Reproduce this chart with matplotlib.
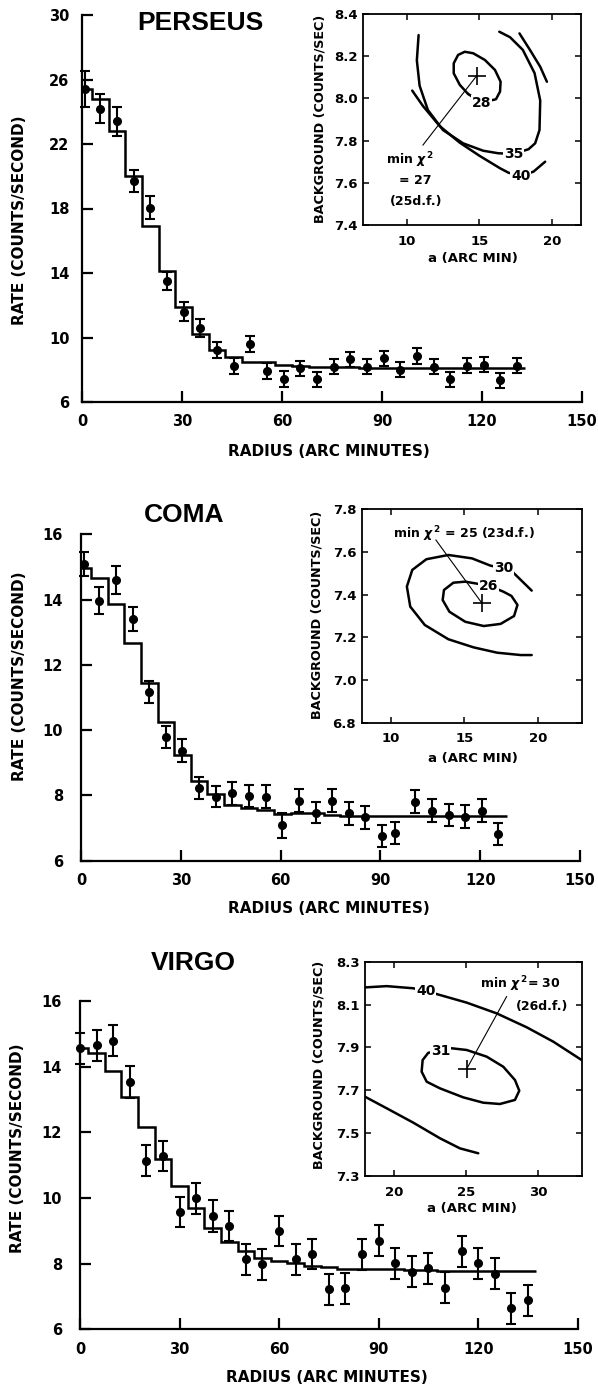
import numpy as np
import matplotlib.pyplot as plt

plt.rcParams['font.family'] = ['DejaVu Sans']
plt.rcParams['font.weight'] = 'bold'

W, H = 598, 1387

# ---- Perseus radial profile ----
per_r = [1, 5.5, 10.5, 15.5, 20.5, 25.5, 30.5, 35.5, 40.5, 45.5, 50.5, 55.5, 60.5, 65.5,
         70.5, 75.5, 80.5, 85.5, 90.5, 95.5, 100.5, 105.5, 110.5, 115.5, 120.5, 125.5, 130.5]
per_rate = [25.4, 24.2, 23.4, 19.7, 18.05, 13.5, 11.6, 10.6, 9.2, 8.25, 9.6, 7.9, 7.45, 8.1,
            7.4, 8.2, 8.65, 8.2, 8.7, 8.0, 8.85, 8.2, 7.4, 8.25, 8.3, 7.35, 8.25]
per_err = [1.1, 0.92, 0.9, 0.7, 0.72, 0.55, 0.6, 0.55, 0.5, 0.5, 0.5, 0.5, 0.5, 0.47,
           0.47, 0.47, 0.47, 0.47, 0.47, 0.47, 0.47, 0.47, 0.47, 0.47, 0.47, 0.47, 0.47]
per_edges = [0, 3, 8, 13, 18, 23, 28, 33, 38, 43, 48, 53, 58, 63, 68, 73, 78, 83, 88, 93,
             98, 103, 108, 113, 118, 123, 128, 133]
per_model = [25.4, 24.8, 22.8, 20.0, 16.9, 14.1, 11.9, 10.2, 9.2, 8.8, 8.5, 8.45, 8.3, 8.25,
             8.15, 8.2, 8.2, 8.1, 8.1, 8.1, 8.1, 8.1, 8.1, 8.1, 8.1, 8.1, 8.1]

# ---- Coma radial profile ----
coma_r = [1, 5.5, 10.5, 15.5, 20.5, 25.5, 30.5, 35.5, 40.5, 45.5, 50.5, 55.5, 60.5, 65.5,
          70.5, 75.5, 80.5, 85.5, 90.5, 94.5, 100.5, 105.5, 110.5, 115.5, 120.5, 125.5]
coma_rate = [15.09, 13.97, 14.60, 13.40, 11.18, 9.80, 9.37, 8.22, 7.96, 8.06, 7.98, 7.96, 7.09,
             7.84, 7.47, 7.84, 7.45, 7.33, 6.76, 6.84, 7.81, 7.53, 7.40, 7.35, 7.53, 6.82]
coma_err = [0.37, 0.41, 0.43, 0.36, 0.34, 0.34, 0.36, 0.33, 0.33, 0.36, 0.35, 0.35, 0.38,
            0.36, 0.33, 0.35, 0.35, 0.35, 0.34, 0.34, 0.35, 0.35, 0.35, 0.35, 0.35, 0.35]
coma_edges = [0, 3, 8, 13, 18, 23, 28, 33, 38, 43, 48, 53, 58, 63, 68, 73, 78, 83, 88, 93,
              98, 103, 108, 113, 118, 123, 128]
coma_model = [14.98, 14.67, 13.87, 12.66, 11.43, 10.24, 9.24, 8.45, 8.04, 7.71, 7.62, 7.55,
              7.43, 7.47, 7.47, 7.40, 7.38, 7.38, 7.37, 7.37, 7.37, 7.37, 7.37, 7.37, 7.37, 7.37]

# ---- Virgo radial profile ----
vir_r = [0, 5, 10, 15, 20, 25, 30, 35, 40, 45, 50, 55, 60, 65, 70, 75, 80, 85, 90, 95,
         100, 105, 110, 115, 120, 125, 130, 135]
vir_rate = [14.56, 14.65, 14.79, 13.53, 11.14, 11.28, 9.58, 9.99, 9.45, 9.15, 8.13, 7.98,
            8.99, 8.13, 8.29, 7.22, 7.25, 8.28, 8.70, 8.01, 7.76, 7.86, 7.27, 8.37, 8.01,
            7.69, 6.64, 6.89]
vir_err = [0.48, 0.47, 0.48, 0.48, 0.46, 0.47, 0.46, 0.48, 0.48, 0.46, 0.47, 0.47, 0.46,
           0.47, 0.46, 0.47, 0.47, 0.47, 0.47, 0.47, 0.47, 0.47, 0.47, 0.47, 0.47, 0.47,
           0.47, 0.47]
vir_edges = [0, 2.5, 7.5, 12.5, 17.5, 22.5, 27.5, 32.5, 37.5, 42.5, 47.5, 52.5, 57.5, 62.5,
             67.5, 72.5, 77.5, 82.5, 87.5, 92.5, 97.5, 102.5, 107.5, 112.5, 117.5, 122.5,
             127.5, 132.5, 137.5]
vir_model = [14.58, 14.41, 13.87, 13.09, 12.17, 11.19, 10.35, 9.69, 9.08, 8.67, 8.37, 8.18,
             8.09, 8.03, 7.92, 7.91, 7.84, 7.83, 7.83, 7.83, 7.80, 7.80, 7.79, 7.79, 7.79,
             7.79, 7.79, 7.79]

# ---- chi^2 contours (core radius a, background) ----
per_c28_a = [14.22, 13.65, 13.23, 13.23, 13.53, 13.99, 14.57, 15.38, 16.07, 16.46, 16.42, 16.14, 15.15, 14.22]
per_c28_b = [8.021, 8.064, 8.119, 8.166, 8.206, 8.221, 8.214, 8.182, 8.135, 8.079, 8.032, 7.996, 7.98, 8.021]
per_c35_a = [10.81, 10.69, 10.88, 11.45, 12.49, 13.88, 15.26, 16.30, 17.34, 18.38, 18.84,
             19.14, 19.19, 18.80, 17.99, 17.11, 16.37]
per_c35_b = [8.30, 8.18, 8.06, 7.945, 7.85, 7.787, 7.752, 7.74, 7.737, 7.759, 7.787,
             7.85, 7.99, 8.12, 8.23, 8.29, 8.316]
per_c40_a = [10.37, 11.11, 12.26, 13.65, 15.03, 16.42, 17.0, 17.85, 18.73, 19.53]
per_c40_b = [8.037, 7.964, 7.869, 7.79, 7.727, 7.669, 7.648, 7.632, 7.653, 7.70]
per_c40u_a = [17.76, 18.49, 19.19, 19.65]
per_c40u_b = [8.308, 8.229, 8.15, 8.079]
per_min = (14.8, 8.106)

coma_c26_a = [16.67, 15.06, 14.25, 13.61, 13.52, 13.98, 15.06, 16.32, 17.47, 18.39, 18.62,
              18.21, 17.66, 16.67]
coma_c26_b = [7.442, 7.461, 7.456, 7.422, 7.375, 7.32, 7.273, 7.253, 7.263, 7.30, 7.352,
              7.394, 7.414, 7.442]
coma_c30_a = [19.59, 18.34, 17.66, 16.78, 15.52, 13.91, 12.41, 11.45, 11.08, 11.31, 12.30,
              13.91, 15.63, 17.24, 18.85, 19.59]
coma_c30_b = [7.419, 7.503, 7.523, 7.536, 7.570, 7.586, 7.566, 7.516, 7.438, 7.344, 7.258,
              7.191, 7.153, 7.128, 7.117, 7.117]
coma_min = (16.21, 7.359)

vir_c40u_a = [18.0, 19.50, 21.34, 22.20, 22.96, 25.04, 27.11, 29.19, 31.03, 33.0]
vir_c40u_b = [8.180, 8.186, 8.176, 8.163, 8.149, 8.109, 8.059, 7.994, 7.927, 7.841]
vir_c40l_a = [18.0, 19.50, 21.34, 23.19, 24.57, 25.84]
vir_c40l_b = [7.67, 7.616, 7.549, 7.476, 7.429, 7.406]
vir_c31_a = [23.24, 24.0, 25.04, 26.42, 27.57, 28.38, 28.68, 28.38, 27.34, 26.19, 24.80,
             23.19, 22.27, 21.92, 21.99, 22.38, 23.24]
vir_c31_b = [7.885, 7.896, 7.888, 7.857, 7.81, 7.748, 7.698, 7.655, 7.636, 7.642, 7.667,
             7.709, 7.74, 7.787, 7.841, 7.875, 7.885]
vir_min = (25.04, 7.80)


def px_rect(l, t, r, b):
    return [l / W, 1 - b / H, (r - l) / W, (b - t) / H]


fig = plt.figure(figsize=(W / 100, H / 100), dpi=100)


def profile(rect, r, rate, err, edges, model, ylim, yticks, ypad, title, title_pos, xl_pos, yl_pos):
    ax = fig.add_axes(rect)
    ax.stairs(model, edges, baseline=None, color='black', lw=1.8)
    eb = ax.errorbar(r, rate, yerr=err, fmt='o', color='black', ms=5.5,
                     elinewidth=1.5, capsize=3.5, capthick=1.5)
    eb[0].set_clip_on(False)
    for a in list(eb[1]) + list(eb[2]):
        a.set_clip_on(False)
    ax.set_xlim(0, 150)
    ax.set_ylim(ylim)
    ax.set_xticks([0, 30, 60, 90, 120, 150])
    ax.set_yticks(yticks)
    ax.spines[['top', 'right']].set_visible(False)
    ax.spines[['left', 'bottom']].set_linewidth(1.6)
    ax.tick_params(direction='in', length=8, width=1.6, labelsize=10.5)
    ax.tick_params(axis='x', pad=9)
    ax.tick_params(axis='y', pad=ypad)
    ax.text(title_pos[0], title_pos[1], title, transform=ax.transAxes,
            ha='center', va='center', fontsize=19, family='Liberation Sans')
    ax.text(xl_pos[0], xl_pos[1], 'RADIUS (ARC MINUTES)', transform=ax.transAxes,
            ha='center', va='center', fontsize=11)
    ax.text(yl_pos[0], yl_pos[1], 'RATE (COUNTS/SECOND)', transform=ax.transAxes,
            ha='center', va='center', rotation=90, fontsize=11)
    return ax


def chi_axes(rect, xlim, ylim, xticks, yticks, xl_pos, yl_pos):
    ax = fig.add_axes(rect)
    ax.set_xlim(xlim)
    ax.set_ylim(ylim)
    ax.set_xticks(xticks)
    ax.set_yticks(yticks)
    ax.set_yticklabels(['%.1f' % v for v in yticks])
    for s in ax.spines.values():
        s.set_linewidth(1.3)
    ax.tick_params(direction='in', top=True, right=True, length=4, width=1.1, labelsize=9.5)
    ax.tick_params(axis='x', pad=7)
    ax.tick_params(axis='y', pad=4)
    ax.text(xl_pos[0], xl_pos[1], 'a (ARC MIN)', transform=ax.transAxes,
            ha='center', va='center', fontsize=9.5)
    ax.text(yl_pos[0], yl_pos[1], 'BACKGROUND (COUNTS/SEC)', transform=ax.transAxes,
            ha='center', va='center', rotation=90, fontsize=9.2)
    return ax


def curve(ax, a, b):
    ax.plot(a, b, color='black', lw=1.8, solid_capstyle='round', solid_joinstyle='round')


def clabel(ax, x, y, s):
    ax.text(x, y, s, ha='center', va='center', fontsize=10, zorder=5,
            bbox=dict(facecolor='white', edgecolor='none', pad=0.5))


def minimum(ax, pt, end):
    ax.plot([pt[0]], [pt[1]], marker='+', color='black', ms=13, mew=1.2)
    ax.plot([pt[0], end[0]], [pt[1], end[1]], color='black', lw=0.8)


# ---------------- Perseus ----------------
profile(px_rect(82, 15, 582, 402), per_r, per_rate, per_err, per_edges, per_model,
        (6, 30), [6, 10, 14, 18, 22, 26, 30], 9, 'PERSEUS', (0.236, 0.979),
        (0.494, -0.129), (-0.124, 0.47))
ax = chi_axes(px_rect(363.3, 14, 581, 225), (7, 22), (7.4, 8.4), [10, 15, 20],
              [7.4, 7.6, 7.8, 8.0, 8.2, 8.4], (0.505, -0.158), (-0.199, 0.502))
curve(ax, per_c28_a, per_c28_b)
curve(ax, per_c35_a, per_c35_b)
curve(ax, per_c40_a, per_c40_b)
curve(ax, per_c40u_a, per_c40u_b)
minimum(ax, per_min, (11.11, 7.779))
clabel(ax, 15.15, 7.98, '28')
clabel(ax, 17.34, 7.737, '35')
clabel(ax, 17.85, 7.632, '40')
ax.text(10.23, 7.708, r'min $\chi^{\,2}$', ha='center', va='center', fontsize=9)
ax.text(10.58, 7.613, '= 27', ha='center', va='center', fontsize=9)
ax.text(10.65, 7.511, '(25d.f.)', ha='center', va='center', fontsize=9)

# ---------------- Coma ----------------
profile(px_rect(81, 534.3, 580, 860.7), coma_r, coma_rate, coma_err, coma_edges, coma_model,
        (6, 16), [6, 8, 10, 12, 14, 16], 13, 'COMA', (0.206, 1.059),
        (0.496, -0.145), (-0.123, 0.564))
ax = chi_axes(px_rect(361.7, 509.3, 581.7, 722.7), (8, 23), (6.8, 7.8), [10, 15, 20],
              [6.8, 7.0, 7.2, 7.4, 7.6, 7.8], (0.507, -0.167), (-0.201, 0.505))
curve(ax, coma_c26_a, coma_c26_b)
curve(ax, coma_c30_a, coma_c30_b)
minimum(ax, coma_min, (13.06, 7.656))
clabel(ax, 16.67, 7.442, '26')
clabel(ax, 17.66, 7.523, '30')
ax.text(14.94, 7.683, r'min $\chi^{\,2}$ = 25 (23d.f.)', ha='center', va='center', fontsize=9)

# ---------------- Virgo ----------------
profile(px_rect(80, 1001, 577.7, 1329.3), vir_r, vir_rate, vir_err, vir_edges, vir_model,
        (6, 16), [6, 8, 10, 12, 14, 16], 13, 'VIRGO', (0.228, 1.116),
        (0.496, -0.148), (-0.126, 0.552))
ax = chi_axes(px_rect(365, 961.7, 581.7, 1176), (18, 33), (7.3, 8.3), [20, 25, 30],
              [7.3, 7.5, 7.7, 7.9, 8.1, 8.3], (0.492, -0.151), (-0.212, 0.518))
curve(ax, vir_c40u_a, vir_c40u_b)
curve(ax, vir_c40l_a, vir_c40l_b)
curve(ax, vir_c31_a, vir_c31_b)
minimum(ax, vir_min, (27.80, 8.137))
clabel(ax, 22.20, 8.163, '40')
clabel(ax, 23.24, 7.885, '31')
ax.text(28.73, 8.194, r'min $\chi^{\,2}$= 30', ha='center', va='center', fontsize=9)
ax.text(30.23, 8.093, '(26d.f.)', ha='center', va='center', fontsize=9)

fig.savefig('out.png', dpi=100)
